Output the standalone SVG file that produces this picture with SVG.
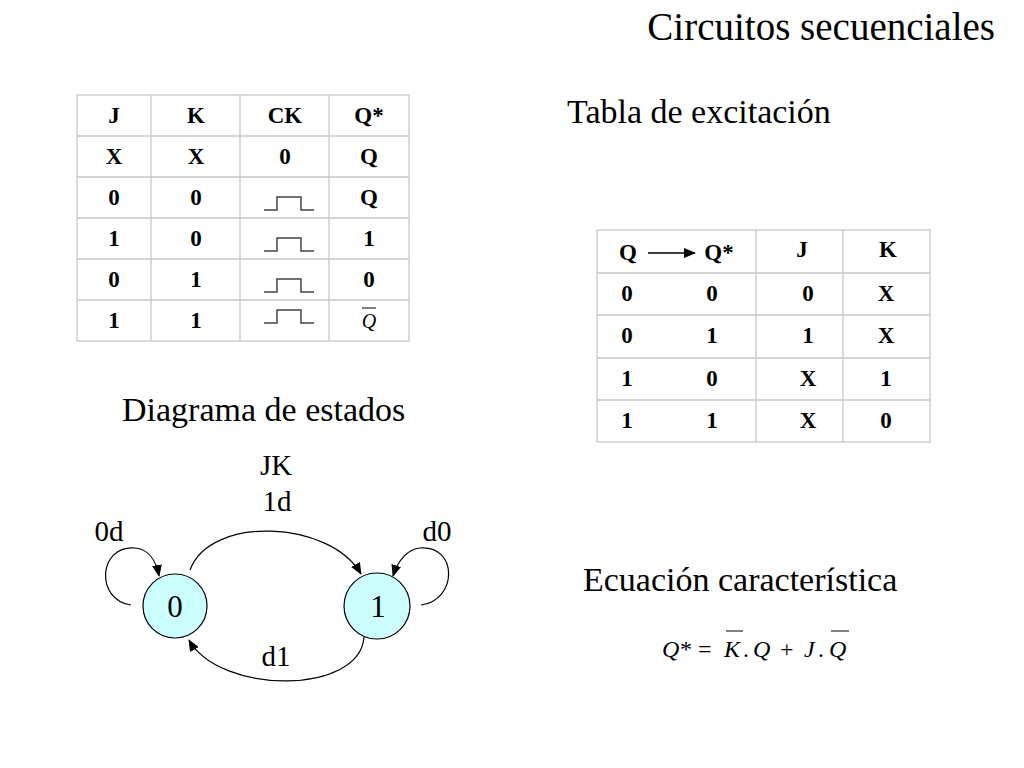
<svg xmlns="http://www.w3.org/2000/svg" width="1024" height="768" viewBox="0 0 1024 768">
<style>
text{font-family:"Liberation Serif",serif;fill:#000}
.t{font-size:23px;font-weight:bold;text-anchor:middle}
.h{font-size:34px}
.grid{stroke:#c8c8c8;stroke-width:1.3;fill:none}
.ck{stroke:#444;stroke-width:1.5;fill:none}
.c{stroke:#000;stroke-width:1.2;fill:none;marker-end:url(#a)}
.n{fill:#ccffff;stroke:#000;stroke-width:1.2}
.lb{font-size:29px}
.eq{font-size:24px;font-style:italic}
</style>
<defs><marker id="a" markerWidth="12" markerHeight="10" refX="11" refY="5" orient="auto" markerUnits="userSpaceOnUse"><path d="M0,0L12,5L0,10z" fill="#000"/></marker></defs>
<rect width="1024" height="768" fill="#fff"/>
<text x="995" y="40" style="font-size:39px" text-anchor="end">Circuitos secuenciales</text>
<text x="567" y="123" class="h">Tabla de excitación</text>
<text x="122" y="421" class="h">Diagrama de estados</text>
<text x="583" y="591" class="h">Ecuación característica</text>
<g id="table1">
<rect x="77" y="95" width="332" height="246" class="grid"/>
<path class="grid" d="M151,95V341M240,95V341M329,95V341M77,136H409M77,177H409M77,218H409M77,259H409M77,300H409"/>
<g class="t"><text x="114" y="123">J</text><text x="196" y="123">K</text><text x="285" y="123">CK</text><text x="369" y="123">Q*</text>
<text x="114" y="164">X</text><text x="196" y="164">X</text><text x="285" y="164">0</text><text x="369" y="164">Q</text>
<text x="114" y="205">0</text><text x="196" y="205">0</text><text x="369" y="205">Q</text>
<text x="114" y="246">1</text><text x="196" y="246">0</text><text x="369" y="246">1</text>
<text x="114" y="287">0</text><text x="196" y="287">1</text><text x="369" y="287">0</text>
<text x="114" y="328">1</text><text x="196" y="328">1</text></g>
<text x="369" y="328" style="font-size:20px;font-style:italic;text-anchor:middle">Q</text>
<path d="M362,308H376" stroke="#000" stroke-width="1"/>
<path class="ck" d="M264,210H277V197H301V210H314M264,251H277V238H301V251H314M264,292H277V279H301V292H314M264,323H277V310H301V323H314"/>
</g>
<g id="table2">
<rect x="597" y="230" width="333" height="212" class="grid"/>
<path class="grid" d="M756,230V442M843,230V442M597,273H930M597,315H930M597,358H930M597,400H930"/>
<g class="t"><text x="628" y="260">Q</text><text x="719" y="260">Q*</text><text x="802" y="257">J</text><text x="888" y="257">K</text>
<text x="627" y="301">0</text><text x="712" y="301">0</text><text x="808" y="301">0</text><text x="886" y="301">X</text>
<text x="627" y="343">0</text><text x="712" y="343">1</text><text x="808" y="343">1</text><text x="886" y="343">X</text>
<text x="627" y="386">1</text><text x="712" y="386">0</text><text x="808" y="386">X</text><text x="886" y="386">1</text>
<text x="627" y="428">1</text><text x="712" y="428">1</text><text x="808" y="428">X</text><text x="886" y="428">0</text></g>
<path d="M648,253H695" stroke="#000" stroke-width="1.3" marker-end="url(#a)"/>
</g>
<g id="s0"><circle cx="175" cy="606" r="32" class="n"/><text x="175" y="617" class="lb" text-anchor="middle" style="font-size:31px">0</text></g>
<g id="s1"><circle cx="377" cy="606" r="33" class="n"/><text x="378" y="617" class="lb" text-anchor="middle" style="font-size:31px">1</text></g>
<g id="connectors">
<path class="c" d="M131,605C95,600 98,545 135,548C148,549 156,560 159,576"/>
<path class="c" d="M190,570C210,515 330,520 361,574"/>
<path class="c" d="M421,605C458,600 458,545 420,548C408,549 398,560 393,576"/>
<path class="c" d="M364,637C360,695 220,695 189,640"/>
</g>
<g class="lb">
<text x="276" y="475" text-anchor="middle">JK</text><text x="277" y="511" text-anchor="middle">1d</text>
<text x="109" y="541" text-anchor="middle">0d</text><text x="437" y="541" text-anchor="middle">d0</text><text x="276" y="666" text-anchor="middle">d1</text>
</g>
<g id="eq">
<text x="662" y="657" class="eq">Q</text><text x="680" y="657" style="font-size:24px">*</text>
<text x="698" y="657" style="font-size:24px">=</text>
<text x="724" y="657" class="eq">K</text><text x="743" y="657" style="font-size:24px">.</text>
<text x="753" y="657" class="eq">Q</text>
<text x="780" y="657" style="font-size:24px">+</text>
<text x="804" y="657" class="eq">J</text><text x="818" y="657" style="font-size:24px">.</text>
<text x="829" y="657" class="eq">Q</text>
<path d="M726,631H743M831,631H849" stroke="#000" stroke-width="1.2"/>
</g>
</svg>
